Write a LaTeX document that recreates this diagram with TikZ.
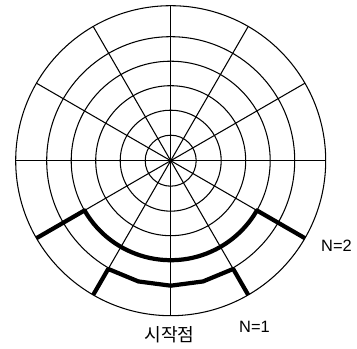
\documentclass[tikz,border=0pt]{standalone}
\usepackage{fontspec}
\setmainfont{Liberation Sans}
\newfontfamily\krfont{Noto Sans CJK KR}
\usetikzlibrary{positioning}
\definecolor{inkblack}{HTML}{000000}

\begin{document}
\begin{tikzpicture}[x=0.03cm, y=-0.03cm, line join=round,
  gridline/.style={inkblack, line width=0.9pt},
  pathline/.style={inkblack, line width=3.6pt},
  lbl/.style={font=\fontsize{14}{16}\selectfont, inner sep=0pt}]

% Frame
\useasboundingbox (0,0) rectangle (357,349);

\begin{scope}[shift={(170.7,160.7)}]
  % Rings
  \foreach \r in {25.5,50.5,75,99.5,124,155}
    \draw[gridline] (0,0) circle[radius=\r];
  % Spokes every 30 degrees
  \foreach \a in {0,30,...,330}
    \draw[gridline] (0,0) -- ({155*cos(\a)},{-155*sin(\a)});
  % Path N=2
  \draw[pathline] ({155*cos(210)},{-155*sin(210)}) -- ({99.5*cos(210)},{-99.5*sin(210)})
    arc[start angle=-210, end angle=-330, radius=99.5]
    -- ({155*cos(330)},{-155*sin(330)});
  % Path N=1
  \draw[pathline] ({155*cos(240)},{-155*sin(240)})
    \foreach \a in {240,255,270,285,300} { -- ({125*cos(\a)},{-125*sin(\a)}) }
    -- ({155*cos(300)},{-155*sin(300)});
\end{scope}

% Labels
\node[lbl] (ntwo) at (336.5,245.5) {N=2};
\node[lbl] (none) at (254.5,326.5) {N=1};
\node[inner sep=0pt, font=\krfont\fontsize{15.5}{17}\selectfont] (start) at (169.5,335) {시작점};

\end{tikzpicture}
\end{document}
